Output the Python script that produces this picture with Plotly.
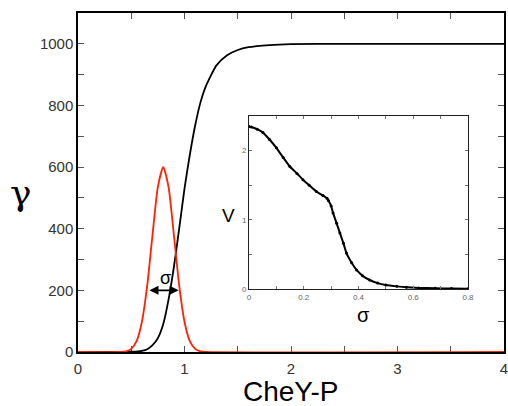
import plotly.graph_objects as go

# Main panel: Hill-type response (black) and CheY-P distribution (red)
chey_x = [0.0, 0.4, 0.5, 0.6, 0.65, 0.7, 0.75, 0.8, 0.85, 0.9, 0.95, 1.0, 1.05, 1.1, 1.15,
          1.2, 1.3, 1.4, 1.5, 1.6, 1.8, 2.0, 2.5, 3.0, 4.0]
gamma_y = [0, 0, 1, 4, 9, 22, 45, 90, 170, 275, 400, 530, 640, 735, 810,
           862, 930, 963, 980, 989, 996, 999, 1000, 1000, 1000]

dist_x = [0.0, 0.40, 0.45, 0.50, 0.55, 0.60, 0.65, 0.70, 0.75, 0.80, 0.85, 0.90, 0.95,
          1.00, 1.05, 1.10, 1.15, 1.20, 4.0]
dist_y = [0, 0, 2, 10, 35, 98, 216, 381, 536, 600, 536, 381, 216,
          98, 35, 10, 2, 0, 0]

# Inset: V versus sigma
sigma_x = [0.0, 0.009, 0.03, 0.051, 0.075, 0.10, 0.125, 0.149, 0.175, 0.197, 0.22, 0.246,
           0.27, 0.285, 0.29, 0.30, 0.307, 0.32, 0.332, 0.345, 0.356, 0.375, 0.393, 0.415,
           0.441, 0.47, 0.50, 0.54, 0.575, 0.62, 0.68, 0.74, 0.8]
v_y = [2.35, 2.34, 2.31, 2.26, 2.16, 2.04, 1.90, 1.77, 1.67, 1.58, 1.50, 1.41,
       1.35, 1.31, 1.28, 1.20, 1.10, 0.95, 0.81, 0.66, 0.52, 0.38, 0.275, 0.19,
       0.13, 0.085, 0.058, 0.038, 0.025, 0.016, 0.010, 0.007, 0.005]

fig = go.Figure()
fig.add_trace(go.Scatter(x=chey_x, y=gamma_y, mode="lines", line=dict(color="black", width=1.8, shape="spline", smoothing=0.6),
                         xaxis="x", yaxis="y", showlegend=False, cliponaxis=False))
fig.add_trace(go.Scatter(x=dist_x, y=dist_y, mode="lines", line=dict(color="#ff2200", width=1.8, shape="spline", smoothing=0.6),
                         xaxis="x", yaxis="y", showlegend=False, cliponaxis=False))
fig.add_trace(go.Scatter(x=sigma_x, y=v_y, mode="lines+markers", line=dict(color="black", width=2, shape="spline", smoothing=0.5),
                         marker=dict(color="black", size=3),
                         xaxis="x2", yaxis="y2", showlegend=False))

# body margin is removed by a post script, so the figure fills the 508x406 window
OFF = 0
W, H = 508, 406
L, R, T, B = 78, 4, 13, 54
pw = W - L - R
ph = H - T - B

def px_x(p):
    return (p - OFF - L) / pw

def px_y(p):
    return (H - B - (p - OFF)) / ph

main_font = dict(family="Liberation Sans, Arial, sans-serif", size=15, color="#333")
inset_font = dict(family="Liberation Sans, Arial, sans-serif", size=8, color="#666")

fig.update_layout(
    width=W, height=H,
    margin=dict(l=L, r=R, t=T, b=B, autoexpand=False),
    paper_bgcolor="white", plot_bgcolor="white",
    xaxis=dict(range=[0, 4], tickvals=[0, 1, 2, 3, 4], ticks="inside", ticklen=6, tickcolor="#555",
               showline=True, linecolor="black", linewidth=1.5, mirror="ticks", showgrid=False, zeroline=False,
               automargin=False, ticklabelstandoff=2, ticklabeloverflow="allow", layer="below traces",
               tickfont=main_font, minor=dict(dtick=0.5, ticks="inside", ticklen=6, tickcolor="#555", showgrid=False)),
    yaxis=dict(range=[0, 1100], tickvals=[0, 200, 400, 600, 800, 1000], ticks="inside", ticklen=6, tickcolor="#555",
               showline=True, linecolor="black", linewidth=1.5, mirror="ticks", showgrid=False, zeroline=False,
               automargin=False, ticklabeloverflow="allow", layer="below traces",
               tickfont=main_font, minor=dict(dtick=100, ticks="inside", ticklen=6, tickcolor="#555", showgrid=False)),
    xaxis2=dict(domain=[px_x(249), px_x(468)], anchor="y2", range=[0, 0.8], tickvals=[0, 0.2, 0.4, 0.6, 0.8],
                ticktext=["0", "0.2", "0.4", "0.6", "0.8"], automargin=False,
                ticks="inside", ticklen=3, tickcolor="#777", showline=True, linecolor="#222", linewidth=1,
                mirror="ticks", showgrid=False, zeroline=False, tickfont=inset_font,
                minor=dict(dtick=0.1, ticks="inside", ticklen=3, tickcolor="#777", showgrid=False)),
    yaxis2=dict(domain=[px_y(289), px_y(116)], anchor="x2", range=[0, 2.5], tickvals=[0, 1, 2],
                automargin=False,
                ticks="inside", ticklen=3, tickcolor="#777", showline=True, linecolor="#222", linewidth=1,
                mirror="ticks", showgrid=False, zeroline=False, tickfont=inset_font,
                minor=dict(dtick=0.5, ticks="inside", ticklen=3, tickcolor="#777", showgrid=False)),
)

# sigma width arrow on the main panel
fig.add_annotation(x=0.945, y=200, ax=0.657, ay=200, xref="x", yref="y", axref="x", ayref="y",
                   text="", showarrow=True, arrowhead=2, arrowside="end+start", arrowsize=1,
                   arrowwidth=1.8, arrowcolor="black")
fig.add_annotation(x=0.817, y=240, xref="x", yref="y", text="σ", showarrow=False,
                   xanchor="center", yanchor="middle",
                   font=dict(family="Liberation Sans, Arial, sans-serif", size=18, color="black"))

# axis titles
labels = [
    ("CheY-P", 290, 391, "Liberation Sans, Arial, sans-serif", 28),
    ("γ", 21, 193, "DejaVu Serif, serif", 36),
    ("V", 228, 215, "Liberation Sans, Arial, sans-serif", 19),
    ("σ", 363, 315, "Liberation Sans, Arial, sans-serif", 20),
]
for txt, xp, yp, fam, sz in labels:
    fig.add_annotation(x=px_x(xp), y=px_y(yp), xref="paper", yref="paper", text=txt, showarrow=False,
                       xanchor="center", yanchor="middle",
                       font=dict(family=fam, size=sz, color="black"))

fig.write_html("out.html", config={"displayModeBar": False},
               post_script="document.body.style.margin='0';document.body.style.overflow='hidden';")
